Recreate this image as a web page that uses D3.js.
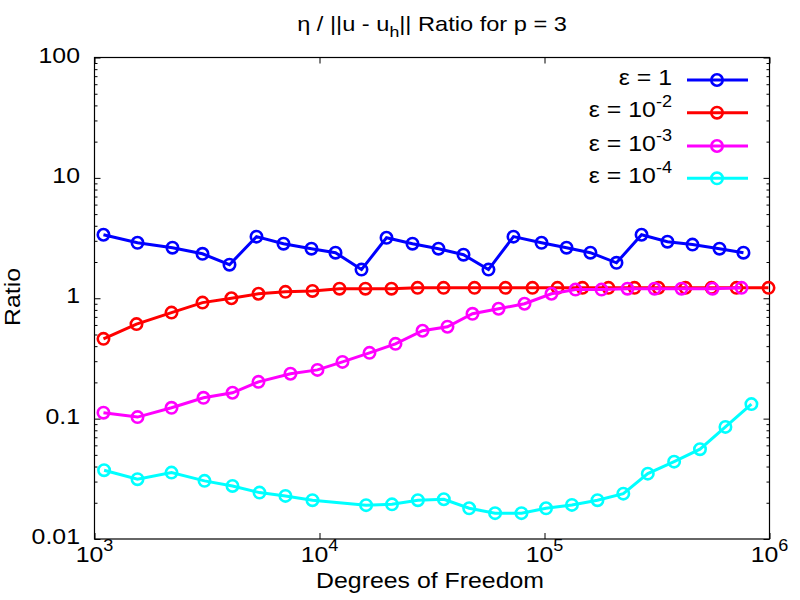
<!DOCTYPE html>
<html>
<head>
<meta charset="utf-8">
<script src="https://cdn.jsdelivr.net/npm/d3@7"></script>
<style>
  html, body { margin: 0; padding: 0; background: #fff; }
  svg { display: block; }
  text { font-family: "Liberation Sans", Arial, sans-serif; fill: #000; }
</style>
</head>
<body>
<svg id="chart" width="800" height="600"></svg>
<script>
// ---- data ----
const dofBlue = [1096,1553,2221,3020,3981,5248,6918,9210,11780,15370,19850,25900,33800,43650,56370,72800,97000,125300,160000,208900,270000,352000,454700,599500,766000];
const ratioBlue = [3.37,2.89,2.63,2.34,1.90,3.25,2.84,2.58,2.39,1.73,3.18,2.84,2.58,2.30,1.73,3.25,2.89,2.63,2.39,1.97,3.37,2.95,2.79,2.58,2.39];

const dofRed = [1096,1537,2199,3020,4060,5355,7057,9305,12270,16000,20890,27280,35600,48860,67100,88400,114200,147500,192400,251200,321000,423400,552300,713300,990000];
const ratioRed = [0.46,0.61,0.76,0.92,1.0,1.09,1.13,1.15,1.2,1.2,1.2,1.22,1.22,1.22,1.22,1.22,1.22,1.22,1.22,1.22,1.22,1.22,1.22,1.22,1.22];

const dofMagenta = [1096,1553,2199,3050,4105,5355,7430,9795,12650,16680,21760,28700,37050,47860,62500,81500,107400,137300,179200,233800,308300,406200,558400,751000];
const ratioMagenta = [0.112,0.103,0.123,0.149,0.164,0.202,0.236,0.254,0.296,0.352,0.418,0.537,0.58,0.743,0.818,0.90,1.09,1.18,1.18,1.2,1.2,1.2,1.2,1.22];

const dofCyan = [1103,1553,2199,3083,4105,5412,7057,9305,16110,21000,27370,35690,46260,60300,79000,101600,132400,172000,224000,287800,376800,491000,637000,831000];
const ratioCyan = [0.0373,0.0314,0.0356,0.0304,0.0276,0.0243,0.0228,0.0210,0.0191,0.0194,0.0210,0.0214,0.0180,0.0164,0.0164,0.0180,0.0192,0.0210,0.0238,0.0349,0.0439,0.0557,0.0854,0.132];

const seriesNames = ["1", "-2", "-3", "-4"];
const seriesColors = ["#0000ff", "#ff0000", "#ff00ff", "#00ffff"];

const xTickExps = [3, 4, 5, 6];
const yTickLabels = ["0.01", "0.1", "1", "10", "100"];
const yTickValues = [0.01, 0.1, 1, 10, 100];

const titleMain = "η / ||u - u";
const titleSub = "h";
const titleRest = "|| Ratio for p = 3";
const xLabel = "Degrees of Freedom";
const yLabel = "Ratio";

// ---- layout ----
const L = 94.5, R = 769.5, T = 57.5, B = 539;
const svg = d3.select("#chart");
const x = d3.scaleLog().domain([1e3, 1e6]).range([L, R]);
const y = d3.scaleLog().domain([0.01, 100]).range([B, T]);

const series = [
  {dof: dofBlue, val: ratioBlue},
  {dof: dofRed, val: ratioRed},
  {dof: dofMagenta, val: ratioMagenta},
  {dof: dofCyan, val: ratioCyan}
];

function stext(parent, px, py, anchor, size, sx, extra) {
  return parent.append("text")
    .attr("transform", `translate(${px},${py})${extra || ""} scale(${sx},1)`)
    .attr("text-anchor", anchor).attr("font-size", size);
}

const yMinor = [];
for (let e = -2; e < 2; e++) for (let k = 2; k <= 9; k++) yMinor.push(k * Math.pow(10, e));

function axisGroup(axis, tx, ty) {
  const g = svg.append("g").attr("transform", `translate(${tx},${ty})`).call(axis);
  g.select(".domain").remove();
  g.selectAll(".tick line").attr("stroke", "#000").attr("stroke-width", 1);
  g.selectAll(".tick text").remove();
  return g;
}
axisGroup(d3.axisLeft(y).tickValues(yTickValues).tickSize(-6), L, 0);
axisGroup(d3.axisLeft(y).tickValues(yMinor).tickSize(-3), L, 0);
axisGroup(d3.axisRight(y).tickValues(yTickValues).tickSize(-6), R, 0);
axisGroup(d3.axisRight(y).tickValues(yMinor).tickSize(-3), R, 0);
axisGroup(d3.axisBottom(x).tickValues(xTickExps.map(e => Math.pow(10, e))).tickSize(-6), 0, B);
axisGroup(d3.axisTop(x).tickValues(xTickExps.map(e => Math.pow(10, e))).tickSize(-6), 0, T);

svg.append("rect").attr("x", L).attr("y", T).attr("width", R - L).attr("height", B - T)
  .attr("fill", "none").attr("stroke", "#000").attr("stroke-width", 1.2);

const SX = 1.13;
// y tick labels
const yg = svg.append("g");
yTickValues.forEach((v, i) => {
  stext(yg, 80, y(v) + 5, "end", 22, SX).text(yTickLabels[i]);
});

// x tick labels
const xg = svg.append("g");
xTickExps.forEach(e => {
  const t = stext(xg, x(Math.pow(10, e)), B + 23, "middle", 22, SX);
  t.append("tspan").text("10");
  t.append("tspan").attr("dy", -11).attr("font-size", 16).text(e);
});

// axis titles
stext(svg, 430, 588, "middle", 22, SX).text(xLabel);
stext(svg, 20, 297, "middle", 22, SX, " rotate(-90)").text(yLabel);

// title
const tt = stext(svg, (L + R) / 2, 31, "middle", 20, 1.18);
tt.append("tspan").text(titleMain);
tt.append("tspan").attr("dy", 6).attr("font-size", 15).text(titleSub);
tt.append("tspan").attr("dy", -6).text(titleRest);

// series
const line = d3.line().x(d => x(d[0])).y(d => y(d[1]));
series.forEach((s, i) => {
  const pts = s.dof.map((d, j) => [d, s.val[j]]);
  const g = svg.append("g");
  g.append("path").attr("d", line(pts)).attr("fill", "none")
    .attr("stroke", seriesColors[i]).attr("stroke-width", 3);
  g.selectAll("circle").data(pts).join("circle")
    .attr("cx", d => x(d[0])).attr("cy", d => y(d[1])).attr("r", 5.7)
    .attr("fill", "none").attr("stroke", seriesColors[i]).attr("stroke-width", 2.6);
});

// legend
const legY = [80, 112.7, 146, 178.3];
const lg = svg.append("g");
seriesNames.forEach((nm, i) => {
  const t = stext(lg, 672, legY[i] + 4.5, "end", 22, SX);
  if (nm === "1") {
    t.text("ε = 1");
  } else {
    t.append("tspan").text("ε = 10");
    t.append("tspan").attr("dy", -10).attr("font-size", 16).text(nm);
  }
  lg.append("line").attr("x1", 687).attr("x2", 748).attr("y1", legY[i]).attr("y2", legY[i])
    .attr("stroke", seriesColors[i]).attr("stroke-width", 3);
  lg.append("circle").attr("cx", 717).attr("cy", legY[i]).attr("r", 5.7)
    .attr("fill", "none").attr("stroke", seriesColors[i]).attr("stroke-width", 2.6);
});
</script>
</body>
</html>
